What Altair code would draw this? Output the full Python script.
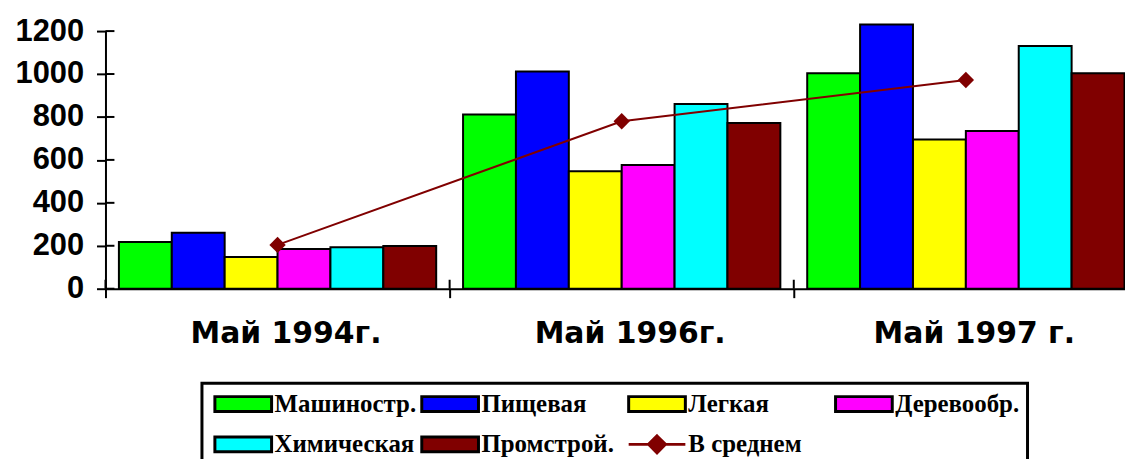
import altair as alt
import pandas as pd

# ---- data ----
periods = ["Май 1994г.", "Май 1996г.", "Май 1997 г."]
series = ["Машиностр.", "Пищевая", "Легкая", "Деревообр.", "Химическая", "Промстрой."]
avg_name = "В среднем"

mashinostr = [218, 811, 1004]
pischevaya = [261, 1012, 1231]
legkaya = [148, 547, 695]
derevoobr = [185, 576, 735]
khimicheskaya = [193, 860, 1131]
promstroy = [199, 772, 1004]
v_srednem = [204, 780, 972]

y_ticks = [0, 200, 400, 600, 800, 1000, 1200]

# ---- styles ----
colors = ["#00FF00", "#0000FF", "#FFFF00", "#FF00FF", "#00FFFF", "#800000"]
avg_color = "#800000"
# legend symbols (unit = sqrt(symbolSize)/2 = 7.5 px): 57x15 box, and line with diamond
rect_sym = "M-1,-1H6.6V1H-1Z"
line_sym = "M-1,0H6.6M2.8,-1.13L3.93,0L2.8,1.13L1.67,0Z"

values_by_series = [mashinostr, pischevaya, legkaya, derevoobr, khimicheskaya, promstroy]
rows = []
for s, vals in zip(series, values_by_series):
    for p, v in zip(periods, vals):
        rows.append({"period": p, "series": s, "value": v})
bar_df = pd.DataFrame(rows)
avg_df = pd.DataFrame({"period": periods, "value": v_srednem})
legend_df = pd.DataFrame({"series": series + [avg_name]})
ytick_df = pd.DataFrame({"v": y_ticks})
xb_df = pd.DataFrame({"period": periods})

all_names = series + [avg_name]
x_scale = alt.Scale(domain=periods, range=[0, 1038], paddingInner=0, paddingOuter=0)
y_scale = alt.Scale(domain=[0, 1200], nice=False)
fill_scale = alt.Scale(domain=series, range=colors)
color_scale = alt.Scale(domain=all_names, range=colors + [avg_color])
stroke_scale = alt.Scale(domain=all_names, range=["black"] * 6 + [avg_color])
shape_scale = alt.Scale(domain=all_names, range=[rect_sym] * 6 + [line_sym])

x_axis = alt.Axis(title=None, labelAngle=0, tickBand="extent", labelFont="DejaVu Sans",
                  labelFontWeight="bold", labelFontSize=30, labelPadding=21, labelOffset=8,
                  labelLimit=0)
y_axis = alt.Axis(title=None, values=y_ticks, format="d", labelFont="Liberation Sans",
                  labelFontWeight="bold", labelFontSize=31, labelPadding=13)

bars = alt.Chart(bar_df).mark_bar(stroke="black", strokeWidth=2).encode(
    x=alt.X("period:N", sort=periods, scale=x_scale, axis=x_axis),
    xOffset=alt.XOffset("series:N", sort=series, scale=alt.Scale(paddingInner=0, paddingOuter=0.254)),
    y=alt.Y("value:Q", scale=y_scale, axis=y_axis),
    fill=alt.Fill("series:N", scale=fill_scale, legend=None),
)

line = alt.Chart(avg_df).mark_line(color=avg_color, strokeWidth=2).encode(
    x=alt.X("period:N", sort=periods),
    y=alt.Y("value:Q"),
)
points = alt.Chart(avg_df).mark_point(shape="diamond", filled=True, color=avg_color, size=270, opacity=1).encode(
    x=alt.X("period:N", sort=periods),
    y=alt.Y("value:Q"),
)

leg = alt.Legend(title=None, orient="none", legendX=97, legendY=354, columns=4, direction="horizontal")
legend_layer = alt.Chart(legend_df).transform_filter("false").mark_point(
    filled=True, strokeWidth=3, opacity=1
).encode(
    color=alt.Color("series:N", scale=color_scale, legend=leg),
    stroke=alt.Stroke("series:N", scale=stroke_scale, legend=leg),
    shape=alt.Shape("series:N", scale=shape_scale, legend=leg),
)

yrules = alt.Chart(ytick_df).mark_rule(color="black", strokeWidth=2).encode(
    y=alt.Y("v:Q"), x=alt.value(0), x2=alt.value(9)
)
xrules = alt.Chart(xb_df).mark_rule(color="black", strokeWidth=2).encode(
    x=alt.X("period:N", sort=periods, bandPosition=0), y=alt.value(250), y2=alt.value(259)
)

chart = alt.layer(bars, line, points, legend_layer, yrules, xrules).properties(
    width=1025,
    height=259,
    autosize=alt.AutoSizeParams(type="none"),
    padding={"left": 98, "top": 22, "right": 0, "bottom": 170},
).configure_view(stroke=None).configure_axis(
    domainColor="black", domainWidth=2, tickColor="black", tickWidth=2, tickSize=9,
    grid=False, labelColor="black",
).configure_legend(
    gridAlign="all", symbolSize=225, symbolStrokeWidth=3, labelFont="Liberation Serif",
    labelFontWeight="bold", labelFontSize=25, labelColor="black", labelOffset=40, labelLimit=400,
    padding=8, strokeColor="black", strokeWidth=3, rowPadding=12, columnPadding=-4,
)

chart.save("out.html", embed_options={"renderer": "svg", "actions": False})
